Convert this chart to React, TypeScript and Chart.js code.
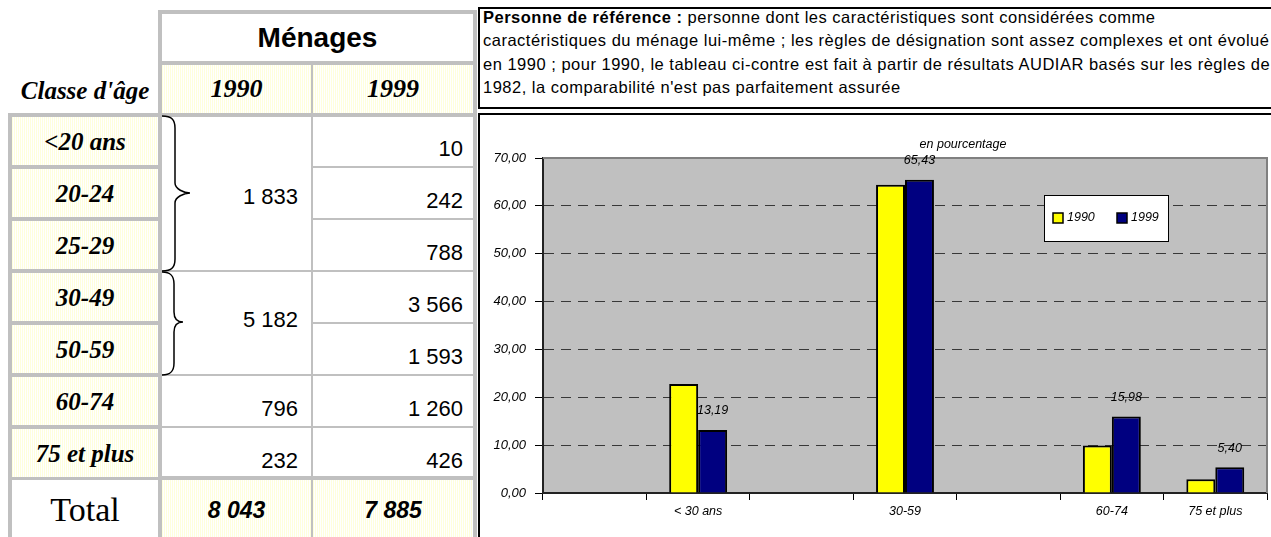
import React, { useEffect, useRef } from "react";
import { Chart, registerables } from "chart.js";

Chart.register(...registerables);

// ---------- chart data ----------
const chartCategories = ["", "< 30 ans", "", "30-59", "", "60-74", "75 et plus"];
const pct1990 = [null, 22.79, null, 64.43, null, 9.9, 2.88];
const pct1999 = [null, 13.19, null, 65.43, null, 15.98, 5.4];
const seriesNames = ["1990", "1999"];
const seriesColors = ["#ffff00", "#000080"];
const yMin = 0;
const yMax = 70;
const yStep = 10;
const chartTitle = "en pourcentage";

// ---------- table data ----------
const ageClasses = ["<20 ans", "20-24", "25-29", "30-49", "50-59", "60-74", "75 et plus"];
const counts1999 = ["10", "242", "788", "3 566", "1 593", "1 260", "426"];
const counts1990 = ["1 833", "5 182", "796", "232"];
const spans1990 = [3, 2, 1, 1];
const totals = ["8 043", "7 885"];
const tableTitle = "Ménages";
const ageHeader = "Classe d'âge";
const totalLabel = "Total";
const noteBold = "Personne de référence :";
const noteLines = [
  " personne dont les caractéristiques sont considérées comme",
  "caractéristiques du ménage lui-même ; les règles de désignation sont assez complexes et ont évolué",
  "en 1990 ; pour 1990, le tableau ci-contre est fait à partir de résultats AUDIAR basés sur les règles de",
  "1982, la comparabilité n'est pas parfaitement assurée",
];

const SANS = "'Liberation Sans', Arial, sans-serif";
const SERIF = "'Liberation Serif', 'Times New Roman', serif";
const GRAY = "#c0c0c0";
const YEL =
  "repeating-linear-gradient(90deg, #ffffdc 0px, #ffffdc 1px, #ffffff 1px, #ffffff 2px)";

const fmt = (v: number) => v.toFixed(2).replace(".", ",");

function Abs(props: any) {
  const { l, t, w, h, bg, style, children } = props;
  return (
    <div
      style={{
        position: "absolute",
        left: l,
        top: t,
        width: w,
        height: h,
        background: bg,
        ...style,
      }}
    >
      {children}
    </div>
  );
}

function Centered(props: any) {
  const { l, t, w, h, bg, font, size, bold, italic, children } = props;
  return (
    <Abs
      l={l}
      t={t}
      w={w}
      h={h}
      bg={bg}
      style={{
        display: "flex",
        alignItems: "center",
        justifyContent: "center",
        fontFamily: font,
        fontSize: size,
        fontWeight: bold ? "bold" : "normal",
        fontStyle: italic ? "italic" : "normal",
        color: "#000",
        whiteSpace: "nowrap",
        lineHeight: 1,
      }}
    >
      {children}
    </Abs>
  );
}

function RightText(props: any) {
  const { right, cy, size, children } = props;
  return (
    <div
      style={{
        position: "absolute",
        right: 1271 - right,
        top: cy - size / 2,
        height: size,
        lineHeight: size + "px",
        fontFamily: SANS,
        fontSize: size,
        color: "#000",
        whiteSpace: "nowrap",
      }}
    >
      {children}
    </div>
  );
}

function bracePath(x0: number, xl: number, xt: number, y0: number, y1: number, ym: number) {
  return `M${x0},${y0} C${xl - 3},${y0} ${xl},${y0 + 4} ${xl},${y0 + 12} L${xl},${ym - 10} C${xl},${ym - 4} ${xt - 6},${ym} ${xt},${ym} C${xt - 6},${ym} ${xl},${ym + 4} ${xl},${ym + 10} L${xl},${y1 - 12} C${xl},${y1 - 4} ${xl - 3},${y1} ${x0},${y1}`;
}

function Table() {
  const rowTop = (k: number) => 117 + 52 * k;
  const midTop = (k: number) => (k === 0 ? 117 : 116 + 52 * k);
  const midBot = (k: number) => (k === 6 ? 476 : 114 + 52 * (k + 1));
  const groups: any[] = [];
  let start = 0;
  spans1990.forEach((s, i) => {
    groups.push({ start, end: start + s - 1, text: counts1990[i], span: s });
    start += s;
  });
  return (
    <>
      {/* left column */}
      <Abs l={8} t={113} w={154} h={430} bg={GRAY} />
      {ageClasses.map((a, k) => (
        <Centered key={a} l={12} t={rowTop(k)} w={146} h={48} bg={YEL} font={SERIF} size={25} bold italic>
          {a}
        </Centered>
      ))}
      <Centered l={12} t={480} w={146} h={60} bg="#fff" font={SERIF} size={34}>
        {totalLabel}
      </Centered>
      <Centered l={8} t={66} w={154} h={48} font={SERIF} size={25} bold italic>
        {ageHeader}
      </Centered>

      {/* header block */}
      <Abs l={158} t={10} w={319} h={107} bg={GRAY} />
      <Centered l={162} t={14} w={311} h={47} bg="#fff" font={SANS} size={28} bold>
        {tableTitle}
      </Centered>
      <Centered l={162} t={65} w={149} h={48} bg={YEL} font={SERIF} size={26} bold italic>
        {seriesNames[0]}
      </Centered>
      <Centered l={313} t={65} w={160} h={48} bg={YEL} font={SERIF} size={26} bold italic>
        {seriesNames[1]}
      </Centered>

      {/* body */}
      <Abs l={158} t={113} w={319} h={430} bg={GRAY} />
      {groups.map((g, i) => (
        <Abs key={"g" + i} l={162} t={midTop(g.start)} w={149} h={midBot(g.end) - midTop(g.start)} bg="#fff" />
      ))}
      {counts1999.map((c, k) => (
        <Abs key={"c" + k} l={313} t={midTop(k)} w={160} h={midBot(k) - midTop(k)} bg="#fff" />
      ))}
      {groups.map((g, i) => {
        const cy =
          g.span > 1 ? (midTop(g.start) + midBot(g.end)) / 2 + (i === 0 ? 3 : -3) : 149 + 52 * g.end;
        return (
          <RightText key={"gt" + i} right={298} cy={cy} size={22}>
            {g.text}
          </RightText>
        );
      })}
      {counts1999.map((c, k) => (
        <RightText key={"ct" + k} right={463} cy={149 + 52 * k} size={22}>
          {c}
        </RightText>
      ))}
      <Centered l={162} t={480} w={149} h={60} bg={YEL} font={SANS} size={23} bold italic>
        {totals[0]}
      </Centered>
      <Centered l={313} t={480} w={160} h={60} bg={YEL} font={SANS} size={23} bold italic>
        {totals[1]}
      </Centered>

      {/* braces */}
      <svg
        style={{ position: "absolute", left: 0, top: 0, overflow: "visible" }}
        width={1}
        height={1}
      >
        <path d={bracePath(162, 175, 190, 116, 271, 193)} fill="none" stroke="#000" strokeWidth={1.5} />
        <path d={bracePath(162, 174, 183, 272, 375, 322)} fill="none" stroke="#000" strokeWidth={1.5} />
      </svg>
    </>
  );
}

function Note() {
  return (
    <>
      <Abs l={478} t={7} w={820} h={102} style={{ border: "2px solid #000", boxSizing: "border-box" }} />
      <div
        style={{
          position: "absolute",
          left: 483,
          top: 6,
          width: 800,
          fontFamily: SANS,
          fontSize: 16.5,
          letterSpacing: 0.5,
          lineHeight: "23.4px",
          color: "#000",
          whiteSpace: "nowrap",
        }}
      >
        <b>{noteBold}</b>
        {noteLines[0]}
        <br />
        {noteLines[1]}
        <br />
        {noteLines[2]}
        <br />
        {noteLines[3]}
      </div>
    </>
  );
}

function BarChart() {
  const ref = useRef<HTMLCanvasElement>(null);
  useEffect(() => {
    const canvas = ref.current!;
    const italicY = { family: SANS, size: 13, style: "italic" as const };
    const italicX = { family: SANS, size: 12.5, style: "italic" as const };

    const plotBg = {
      id: "plotBg",
      beforeDraw(chart: any) {
        const { ctx, chartArea: a } = chart;
        ctx.save();
        ctx.fillStyle = "#c0c0c0";
        ctx.fillRect(a.left, a.top, a.right - a.left, a.bottom - a.top);
        ctx.restore();
      },
      beforeDatasetsDraw(chart: any) {
        const { ctx, chartArea: a } = chart;
        ctx.save();
        ctx.strokeStyle = "#808080";
        ctx.lineWidth = 2;
        ctx.beginPath();
        ctx.moveTo(a.left, a.top);
        ctx.lineTo(a.right, a.top);
        ctx.lineTo(a.right, a.bottom);
        ctx.stroke();
        ctx.restore();
      },
    };

    const valueLabels = {
      id: "valueLabels",
      afterDatasetsDraw(chart: any) {
        const { ctx } = chart;
        const meta = chart.getDatasetMeta(1);
        const data = chart.data.datasets[1].data;
        ctx.save();
        ctx.font = `italic 12.5px ${SANS}`;
        ctx.fillStyle = "#000";
        ctx.textAlign = "center";
        ctx.textBaseline = "middle";
        meta.data.forEach((el: any, i: number) => {
          const v = data[i];
          if (v == null) return;
          ctx.fillText(fmt(v), el.x, el.y - 19);
        });
        ctx.restore();
      },
    };

    const boxLegend = {
      id: "boxLegend",
      afterDraw(chart: any) {
        const { ctx, chartArea: a } = chart;
        const bx = a.left + 501;
        const by = a.top + 37;
        const bw = 124;
        const bh = 46;
        ctx.save();
        ctx.fillStyle = "#fff";
        ctx.fillRect(bx, by, bw, bh);
        ctx.strokeStyle = "#000";
        ctx.lineWidth = 1;
        ctx.strokeRect(bx + 0.5, by + 0.5, bw, bh);
        ctx.font = `italic 12.5px ${SANS}`;
        ctx.textBaseline = "middle";
        ctx.textAlign = "left";
        chart.data.datasets.forEach((ds: any, i: number) => {
          const sx = bx + 9 + i * 64;
          const sy = by + 18;
          ctx.fillStyle = ds.backgroundColor;
          ctx.fillRect(sx, sy, 10, 10);
          ctx.lineWidth = 1.5;
          ctx.strokeStyle = "#000";
          ctx.strokeRect(sx, sy, 10, 10);
          ctx.fillStyle = "#000";
          ctx.fillText(ds.label, sx + 14, sy + 5);
        });
        ctx.restore();
      },
    };

    const plotTitle = {
      id: "plotTitle",
      afterDraw(chart: any) {
        const { ctx, chartArea: a } = chart;
        ctx.save();
        ctx.font = `italic 12.5px ${SANS}`;
        ctx.fillStyle = "#000";
        ctx.textAlign = "center";
        ctx.textBaseline = "middle";
        ctx.fillText(chartTitle, a.left + 420, a.top - 13);
        ctx.restore();
      },
    };

    const chart = new Chart(canvas, {
      type: "bar",
      data: {
        labels: chartCategories,
        datasets: [
          {
            label: seriesNames[0],
            data: pct1990,
            backgroundColor: seriesColors[0],
            borderColor: "#000",
            borderWidth: 2,
            categoryPercentage: 0.56,
            barPercentage: 1,
          },
          {
            label: seriesNames[1],
            data: pct1999,
            backgroundColor: seriesColors[1],
            borderColor: "#000",
            borderWidth: 2,
            categoryPercentage: 0.56,
            barPercentage: 1,
          },
        ],
      },
      options: {
        responsive: false,
        animation: false,
        layout: { padding: { top: 43, right: 4, left: 0, bottom: 0 } },
        plugins: {
          legend: { display: false },
          tooltip: { enabled: false },
          title: { display: false },
        },
        scales: {
          x: {
            type: "category",
            grid: {
              display: true,
              drawOnChartArea: false,
              drawTicks: true,
              tickLength: 7,
              color: "#000",
              offset: true,
            },
            border: { display: true, color: "#222", width: 2 },
            ticks: {
              font: italicX,
              color: "#000",
              padding: 4,
              autoSkip: false,
              maxRotation: 0,
            },
            afterFit(scale: any) {
              scale.height = 44;
            },
          },
          y: {
            min: yMin,
            max: yMax,
            ticks: {
              stepSize: yStep,
              font: italicY,
              color: "#000",
              padding: 9,
              callback: (v: any) => fmt(Number(v)),
            },
            grid: {
              color: (c: any) =>
                c.tick && (c.tick.value === yMin || c.tick.value === yMax)
                  ? "rgba(0,0,0,0)"
                  : "#383838",
              tickColor: "#000",
              tickLength: 8,
              lineWidth: 1,
            },
            border: { display: true, color: "#222", width: 2, dash: [10, 7] },
            afterFit(scale: any) {
              scale.width = 63;
            },
          },
        },
      },
      plugins: [plotBg, valueLabels, boxLegend, plotTitle],
    });
    return () => chart.destroy();
  }, []);
  return (
    <canvas
      ref={ref}
      width={791}
      height={422}
      style={{ position: "absolute", left: 480, top: 115, width: 791, height: 422 }}
    />
  );
}

export default function App() {
  return (
    <div
      style={{
        position: "absolute",
        left: 0,
        top: 0,
        width: 1271,
        height: 537,
        overflow: "hidden",
        background: "#fff",
      }}
    >
      <Table />
      <Note />
      <Abs l={478} t={113} w={820} h={450} style={{ border: "2px solid #000", boxSizing: "border-box" }} />
      <BarChart />
    </div>
  );
}
